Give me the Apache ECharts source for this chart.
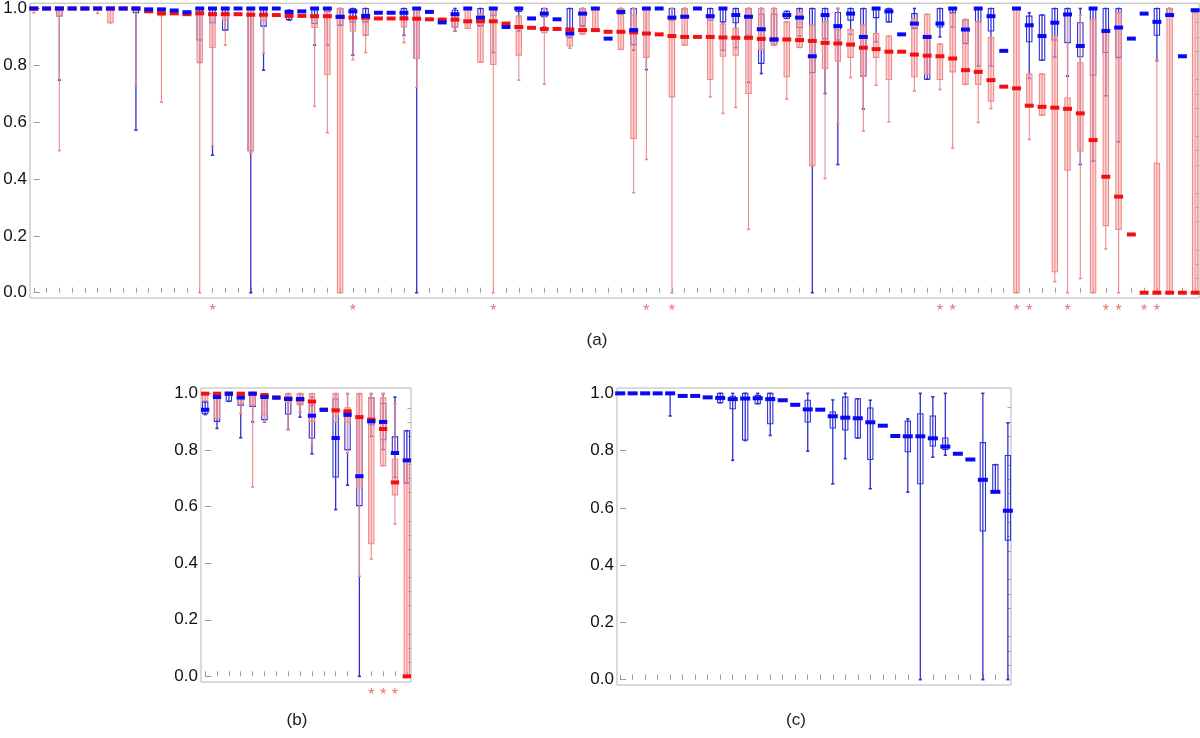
<!DOCTYPE html>
<html><head><meta charset="utf-8">
<script src="https://cdn.jsdelivr.net/npm/echarts@6/dist/echarts.min.js"></script>
<style>html,body{margin:0;padding:0;background:#fff}#c{width:1200px;height:738px}</style>
</head><body><div id="c"></div>
<script>
// ---- Panel (a): [min, Q1, median, Q3, max] per category (single number = only a median dash)
const aRed = [
 [0.985,1,1,1,1],1,[0.5,0.974,1,1,1],1,1,[0.983,1,1,1,1],[0.95,0.95,1,1,1],1,[0.729,1,1,1,1],0.99,
 [0.67,0.975,0.983,0.99,0.99],0.983,0.98,[0,0.81,0.983,0.983,0.983],[0.516,0.863,0.98,0.98,0.98],[0.871,0.96,0.98,0.98,0.98],0.98,[0.492,0.5,0.978,1,1],[0.842,0.957,0.978,0.978,0.978],0.977,
 0.974,0.974,[0.656,0.933,0.973,0.973,0.973],[0.563,0.768,0.973,1,1],[0,0,0.97,1,1],[0.82,0.921,0.968,0.971,0.971],[0.845,0.906,0.968,0.97,0.97],0.965,0.965,[0.88,0.935,0.965,0.965,0.965],
 [0.722,0.824,0.964,1,1],0.962,0.961,[0.921,0.935,0.961,0.975,0.975],[0.93,0.93,0.955,1,1],[0.811,0.811,0.955,0.982,0.982],[0,0.803,0.955,1,1],0.947,[0.748,0.836,0.935,0.973,0.973],0.932,
 [0.734,0.915,0.928,0.928,1],0.928,[0.86,0.868,0.926,0.926,0.926],[0.91,0.91,0.924,1,1],[0.924,0.924,0.924,1,1],0.918,[0.856,0.856,0.918,1,1],[0.352,0.543,0.916,0.977,1],[0.469,0.828,0.912,1,1],0.909,
 [0,0.689,0.903,0.959,1],[0.871,0.871,0.9,1,1],0.9,[0.689,0.75,0.9,0.961,0.961],[0.631,0.832,0.898,0.945,0.945],[0.652,0.836,0.897,0.93,0.93],[0.223,0.701,0.897,1,1],[0.856,0.856,0.893,1,1],[0.873,0.873,0.891,1,1],[0.681,0.76,0.891,0.953,0.953],
 [0.863,0.863,0.889,0.986,0.986],[0.447,0.447,0.886,0.941,0.941],[0.402,0.789,0.879,0.953,0.953],[0.596,0.815,0.877,0.924,1],[0.757,0.828,0.873,0.926,0.926],[0.569,0.762,0.862,0.941,0.941],[0.73,0.828,0.857,0.912,0.912],[0.601,0.75,0.848,0.903,0.903],0.848,[0.71,0.76,0.838,0.965,0.965],
 [0.769,0.769,0.834,0.98,0.98],[0.715,0.75,0.832,0.875,0.875],[0.508,0.777,0.824,0.982,0.982],[0.733,0.733,0.783,0.961,0.961],[0.599,0.733,0.777,0.953,0.953],[0.648,0.674,0.748,0.898,0.898],0.725,[0,0,0.719,1,1],[0.539,0.658,0.658,0.769,0.769],[0.625,0.625,0.654,0.769,0.769],
 [0.039,0.074,0.651,0.903,0.903],[0,0.431,0.647,0.686,0.98],[0.05,0.499,0.631,0.809,0.977],[0,0,0.537,0.961,0.961],[0.154,0.236,0.408,0.916,0.916],[0,0.223,0.338,0.985,0.985],0.205,0,[0,0,0,0.455,0.818],[0,0,0,1,1],
 0,[0,0,0,0.986,0.986]
];
const aBlue = [
 1,1,[0.748,0.974,1,1,1],1,1,1,1,1,[0.572,0.985,1,1,1],0.997,
 0.997,0.993,0.987,[0.81,0.889,1,1,1],[0.484,0.95,1,1,1],[0.924,0.924,1,1,1],1,[0,0.5,1,1,1],[0.783,0.938,1,1,1],1,
 [0.959,0.961,0.988,0.994,0.994],0.99,[0.871,0.947,1,1,1],[0.871,0.99,1,1,1],[0.941,0.941,0.971,1,1],[0.836,0.953,0.99,1,1],[0.906,0.953,0.974,1,1],0.985,0.985,[0.906,0.97,0.985,1,1],
 [0,0.824,1,1,1],0.988,0.951,[0.92,0.935,0.98,0.994,1],1,[0.939,0.939,0.968,1,1],[0.845,0.976,1,1,1],0.935,[0.921,0.99,1,1,1],0.965,
 [0.935,0.971,0.982,1,1],0.962,[0.898,0.898,0.912,1,1],[0.939,0.939,0.982,1,1],1,0.894,[0.98,0.98,0.988,1,1],[0.853,0.873,0.924,1,1],[0.785,1,1,1,1],1,
 [0.959,0.959,0.968,1,1],[0.971,0.971,0.971,1,1],1,[0.959,0.959,0.973,1,1],[0.853,0.953,1,1,1],[0.862,0.95,0.977,1,1],[0.74,0.906,0.971,1,1],[0.771,0.807,0.927,0.98,1],[0.873,0.873,0.891,0.98,1],[0.965,0.965,0.977,0.99,0.99],
 [0.903,0.933,0.968,1,1],[0,0.775,0.832,1,1],[0.701,0.894,0.977,1,1],[0.451,0.889,0.938,0.986,1],[0.909,0.959,0.982,1,1],[0.646,0.762,0.9,1,1],[0.883,0.968,1,1,1],[0.953,0.953,0.99,1,1],0.909,[0.93,0.93,0.947,0.982,1],
 [0.751,0.751,0.9,0.9,0.9],[0.9,0.935,0.947,1,1],[0.935,0.985,1,1,1],[0.877,0.877,0.926,0.961,0.961],[0.798,0.953,1,1,1],[0.798,0.921,0.973,1,1],0.851,1,[0.754,0.883,0.941,0.973,0.985],[0.818,0.818,0.903,0.977,0.977],
 [0.83,0.889,0.95,1,1],[0.762,0.88,0.979,1,1],[0.451,0.83,0.868,0.95,1],[0.463,0.766,1,1,1],[0.693,0.845,0.921,1,1],[0.531,0.828,0.933,1,1],0.894,0.982,[0.816,0.906,0.953,1,1],[0.977,0.977,0.977,1,1],
 0.832,0.994
];
const aStars = [14,25,36,48,50,71,72,77,78,81,84,85,87,88];

// ---- Panel (b)
const bRed = [
 [0.975,0.975,1,1,1],[0.914,0.914,1,1,1],1,[0.93,0.965,1,1,1],[0.67,0.96,1,1,1],[0.9,0.926,0.995,1,1],0.986,[0.873,0.97,0.983,1,1],[0.935,0.96,0.979,1,1],[0.816,0.902,0.972,1,1],
 0.943,[0.9,0.92,0.941,1,1],[0.79,0.9,0.9375,0.95,1],[0.354,0.666,0.917,1,1],[0.415,0.469,0.908,0.985,1],[0.745,0.745,0.875,0.985,1],[0.539,0.642,0.686,0.769,0.963],[0,0,0,0.77,0.77]
];
const bBlue = [
 [0.926,0.929,0.943,0.971,0.971],[0.877,0.902,0.988,1,1],[0.973,0.973,1,1,1],[0.844,0.959,0.986,1,1],[0.9,0.955,1,1,1],[0.899,0.908,0.988,0.993,0.993],0.986,[0.873,0.928,0.981,0.983,1],[0.917,0.963,0.981,1,1],[0.787,0.843,0.922,0.959,0.988],
 0.943,[0.59,0.705,0.843,0.981,1],[0.676,0.802,0.925,0.935,1],[0,0.604,0.708,0.915,1],[0.849,0.89,0.902,0.985,1],[0.802,0.837,0.9,0.965,1],[0.704,0.788,0.79,0.847,0.988],[0.684,0.684,0.764,0.869,0.869]
];
const bStars = [14,15,16];

// ---- Panel (c)
const cBlue = [
 1,1,1,1,[0.921,1,1,1,1],0.991,0.991,0.986,[0.967,0.967,0.984,1,1],[0.766,0.946,0.98,0.99,1],
 [0.835,0.837,0.982,1,1],[0.964,0.964,0.983,0.993,1],[0.853,0.894,0.98,1,1],0.976,0.96,[0.798,0.9,0.944,0.976,1],0.943,[0.684,0.879,0.92,0.935,0.977],[0.772,0.872,0.915,0.987,1],[0.844,0.844,0.913,0.981,0.981],
 [0.667,0.769,0.899,0.949,0.976],0.887,0.851,[0.655,0.796,0.85,0.903,0.911],[0,0.684,0.85,0.929,1],[0.777,0.816,0.843,0.921,0.988],[0.784,0.804,0.814,0.844,1],0.789,0.769,[0,0.519,0.698,0.828,1],
 [0.656,0.656,0.656,0.751,0.751],[0,0.487,0.59,0.783,0.897]
];

const yMajor = [0,0.2,0.4,0.6,0.8,1.0];
const yMinor = [0.05,0.1,0.15,0.25,0.3,0.35,0.45,0.5,0.55,0.65,0.7,0.75,0.85,0.9,0.95];

const BLUE_MED='#0a0af2', RED_MED='#f21010', BLUE_LINE='#3030d4', RED_LINE='#ee8a8a', RED_FILL='rgba(248,150,150,0.4)';
const FONT='"Liberation Sans", Arial, sans-serif';

function norm(arr){ return arr.map((v,i)=> Array.isArray(v)? [i].concat(v) : [i,v,v,v,v,v]); }

function bodyRender(kind, wBox){
  return function(params, api){
    const i=api.value(0), mn=api.value(1), q1=api.value(2), q3=api.value(4), mx=api.value(5);
    const band=api.size([1,0])[0];
    const x=api.coord([i,0])[0];
    const y=v=>api.coord([i,v])[1];
    const ch=[];
    const lc = kind==='blue'?BLUE_LINE:RED_LINE;
    if(mx>mn){
      ch.push({type:'line',shape:{x1:x,y1:y(mx),x2:x,y2:y(mn)},style:{stroke:lc,lineWidth:kind==='blue'?1.3:1.1}});
      [mn,mx].forEach(v=>ch.push({type:'line',shape:{x1:x-1.6,y1:y(v),x2:x+1.6,y2:y(v)},style:{stroke:lc,lineWidth:1.6}}));
    }
    if(q3>q1){
      const w=band*wBox;
      ch.push({type:'rect',shape:{x:x-w/2,y:y(q3),width:w,height:y(q1)-y(q3)},
        style:{fill:kind==='blue'?'rgba(0,0,0,0)':RED_FILL,stroke:lc,lineWidth:1.1}});
    }
    return {type:'group',children:ch};
  };
}
function medRender(kind, wDash){
  return function(params, api){
    const i=api.value(0), md=api.value(3);
    const band=api.size([1,0])[0];
    const p=api.coord([i,md]);
    const w=band*wDash;
    return {type:'rect',shape:{x:p[0]-w/2,y:p[1]-2,width:w,height:4},style:{fill:kind==='blue'?BLUE_MED:RED_MED}};
  };
}
function starRender(params, api){
  const p=api.coord([api.value(0),0]);
  return {type:'text',x:p[0],y:p[1]+19,style:{text:'*',fill:'#f07070',font:'16px '+FONT,align:'center',verticalAlign:'middle'}};
}

const panels = [
  {red:aRed, blue:aBlue, stars:aStars, grid:{left:30,top:3,width:1169,height:295}, pad:0.3, ypad:0.0186, wBox:0.42, wDash:0.7},
  {red:bRed, blue:bBlue, stars:bStars, grid:{left:201,top:388,width:210,height:294}, pad:0.35, ypad:0.02, wBox:0.45, wDash:0.7},
  {red:null, blue:cBlue, stars:[], grid:{left:617,top:388,width:394,height:297}, pad:0.25, ypad:0.0187, wBox:0.42, wDash:0.8}
];

const grid=[], xAxis=[], yAxis=[], series=[];
panels.forEach((pn,g)=>{
  const n=pn.blue.length;
  grid.push(Object.assign({show:true,borderColor:'#b4b4b4',borderWidth:1,backgroundColor:'#fff'},pn.grid));
  const idx=[...Array(n).keys()];
  xAxis.push({type:'value',gridIndex:g,min:-pn.pad,max:n-1+pn.pad,
    axisLine:{show:false},splitLine:{show:false},axisLabel:{show:false},
    axisTick:{show:true,inside:true,length:5,customValues:idx,lineStyle:{color:'#9a9a9a',width:1}}});
  const yi=yAxis.length;
  yAxis.push({type:'value',gridIndex:g,min:-pn.ypad,max:1+pn.ypad,splitLine:{show:false},axisLine:{show:false},
    axisTick:{show:true,inside:true,length:6,customValues:yMajor,lineStyle:{color:'#9a9a9a'}},
    axisLabel:{customValues:yMajor,formatter:v=>v.toFixed(1),color:'#111',fontSize:17,fontFamily:FONT,margin:3}});
  yAxis.push({type:'value',gridIndex:g,min:-pn.ypad,max:1+pn.ypad,splitLine:{show:false},axisLine:{show:false},
    axisTick:{show:true,inside:true,length:3.5,customValues:yMinor,lineStyle:{color:'#a4a4a4'}},
    axisLabel:{show:false}});
  const common={type:'custom',xAxisIndex:g,yAxisIndex:yi,clip:false,encode:{x:0,y:[1,2,3,4,5]},silent:true,animation:false};
  series.push(Object.assign({},common,{z:2,data:norm(pn.blue),renderItem:bodyRender('blue',pn.wBox)}));
  if(pn.red) series.push(Object.assign({},common,{z:3,data:norm(pn.red),renderItem:bodyRender('red',pn.wBox)}));
  if(pn.red) series.push(Object.assign({},common,{z:4,data:norm(pn.red),renderItem:medRender('red',pn.wDash)}));
  series.push(Object.assign({},common,{z:5,data:norm(pn.blue),renderItem:medRender('blue',pn.wDash)}));
  if(pn.stars.length) series.push(Object.assign({},common,{z:6,encode:{x:0},data:pn.stars.map(s=>[s]),renderItem:starRender}));
});

const chart=echarts.init(document.getElementById('c'));
chart.setOption({
  animation:false,
  grid, xAxis, yAxis, series,
  graphic:[
    {type:'text',x:597,y:340,style:{text:'(a)',font:'17px '+FONT,fill:'#222',align:'center',verticalAlign:'middle'}},
    {type:'text',x:297,y:720,style:{text:'(b)',font:'17px '+FONT,fill:'#222',align:'center',verticalAlign:'middle'}},
    {type:'text',x:796,y:720,style:{text:'(c)',font:'17px '+FONT,fill:'#222',align:'center',verticalAlign:'middle'}}
  ]
});
</script></body></html>
